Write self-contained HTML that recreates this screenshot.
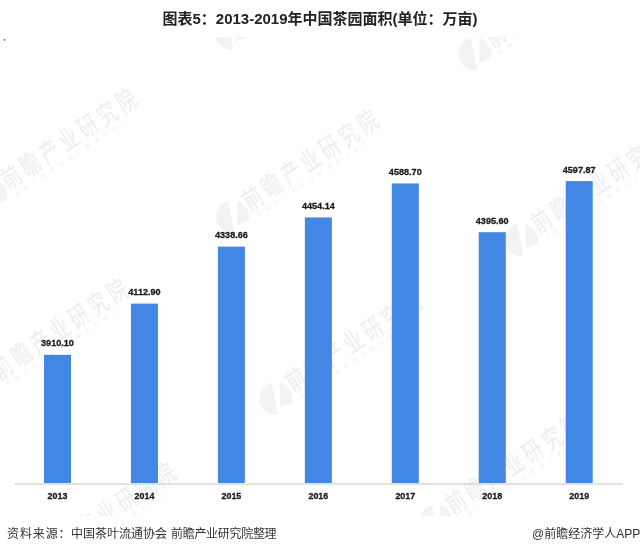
<!DOCTYPE html>
<html><head><meta charset="utf-8"><style>
html,body{margin:0;padding:0;background:#fff;}
body{width:640px;height:552px;position:relative;overflow:hidden;}
#title{position:absolute;left:0;top:8.5px;width:640px;text-align:center;font:bold 15px/20px "Liberation Sans","Noto Sans CJK SC",sans-serif;color:#222;white-space:nowrap;}
svg{position:absolute;left:0;top:0;}
.src{position:absolute;top:524.5px;font:12px/18px "Liberation Sans","Noto Sans CJK SC",sans-serif;color:#333;white-space:nowrap;}
</style></head><body>
<svg width="640" height="552" viewBox="0 0 640 552">
<g fill="#6a7088" opacity="0.11" font-family="Noto Sans CJK SC, sans-serif" font-weight="500"><g transform="translate(232.5 217)"><circle r="16.4" fill="#8a90a4"/><path d="M-4.5 -17.5 L4 -17.5 L4.8 17.5 L2.4 17.5Z M3.4 9 L17.5 3.5 L17.5 18 L3.4 18Z" fill="#fff"/><g transform="rotate(-33.5)"><text transform="translate(17.8 4.8) scale(0.72 1)" font-size="26" letter-spacing="6">前瞻产业研究院</text><text x="20.8" y="13.8" font-size="5" letter-spacing="5.6" font-weight="normal">前瞻产业研究院前瞻经济学人</text></g></g><g transform="translate(275.7 398.5)"><circle r="16.4" fill="#8a90a4"/><path d="M-4.5 -17.5 L4 -17.5 L4.8 17.5 L2.4 17.5Z M3.4 9 L17.5 3.5 L17.5 18 L3.4 18Z" fill="#fff"/><g transform="rotate(-33.5)"><text transform="translate(17.8 4.8) scale(0.72 1)" font-size="26" letter-spacing="6">前瞻产业研究院</text><text x="20.8" y="13.8" font-size="5" letter-spacing="5.6" font-weight="normal">前瞻产业研究院前瞻经济学人</text></g></g><g transform="translate(521.3 240)"><circle r="16.4" fill="#8a90a4"/><path d="M-4.5 -17.5 L4 -17.5 L4.8 17.5 L2.4 17.5Z M3.4 9 L17.5 3.5 L17.5 18 L3.4 18Z" fill="#fff"/><g transform="rotate(-33.5)"><text transform="translate(17.8 4.8) scale(0.72 1)" font-size="26" letter-spacing="6">前瞻产业研究院</text><text x="20.8" y="13.8" font-size="5" letter-spacing="5.6" font-weight="normal">前瞻产业研究院前瞻经济学人</text></g></g><g transform="translate(475 54)"><circle r="16.4" fill="#8a90a4"/><path d="M-4.5 -17.5 L4 -17.5 L4.8 17.5 L2.4 17.5Z M3.4 9 L17.5 3.5 L17.5 18 L3.4 18Z" fill="#fff"/><g transform="rotate(-33.5)"><text transform="translate(17.8 4.8) scale(0.72 1)" font-size="26" letter-spacing="6">前瞻产业研究院</text><text x="20.8" y="13.8" font-size="5" letter-spacing="5.6" font-weight="normal">前瞻产业研究院前瞻经济学人</text></g></g><g transform="translate(-9 196)"><circle r="16.4" fill="#8a90a4"/><path d="M-4.5 -17.5 L4 -17.5 L4.8 17.5 L2.4 17.5Z M3.4 9 L17.5 3.5 L17.5 18 L3.4 18Z" fill="#fff"/><g transform="rotate(-33.5)"><text transform="translate(17.8 4.8) scale(0.72 1)" font-size="26" letter-spacing="6">前瞻产业研究院</text><text x="20.8" y="13.8" font-size="5" letter-spacing="5.6" font-weight="normal">前瞻产业研究院前瞻经济学人</text></g></g><g transform="translate(-18 386)"><circle r="16.4" fill="#8a90a4"/><path d="M-4.5 -17.5 L4 -17.5 L4.8 17.5 L2.4 17.5Z M3.4 9 L17.5 3.5 L17.5 18 L3.4 18Z" fill="#fff"/><g transform="rotate(-33.5)"><text transform="translate(17.8 4.8) scale(0.72 1)" font-size="26" letter-spacing="6">前瞻产业研究院</text><text x="20.8" y="13.8" font-size="5" letter-spacing="5.6" font-weight="normal">前瞻产业研究院前瞻经济学人</text></g></g><g transform="translate(29.5 569.5)"><circle r="16.4" fill="#8a90a4"/><path d="M-4.5 -17.5 L4 -17.5 L4.8 17.5 L2.4 17.5Z M3.4 9 L17.5 3.5 L17.5 18 L3.4 18Z" fill="#fff"/><g transform="rotate(-33.5)"><text transform="translate(17.8 4.8) scale(0.72 1)" font-size="26" letter-spacing="6">前瞻产业研究院</text><text x="20.8" y="13.8" font-size="5" letter-spacing="5.6" font-weight="normal">前瞻产业研究院前瞻经济学人</text></g></g><g transform="translate(436 521)"><circle r="16.4" fill="#8a90a4"/><path d="M-4.5 -17.5 L4 -17.5 L4.8 17.5 L2.4 17.5Z M3.4 9 L17.5 3.5 L17.5 18 L3.4 18Z" fill="#fff"/><g transform="rotate(-33.5)"><text transform="translate(17.8 4.8) scale(0.72 1)" font-size="26" letter-spacing="6">前瞻产业研究院</text><text x="20.8" y="13.8" font-size="5" letter-spacing="5.6" font-weight="normal">前瞻产业研究院前瞻经济学人</text></g></g><g transform="translate(231 33)"><circle r="16.4" fill="#8a90a4"/><path d="M-4.5 -17.5 L4 -17.5 L4.8 17.5 L2.4 17.5Z M3.4 9 L17.5 3.5 L17.5 18 L3.4 18Z" fill="#fff"/><g transform="rotate(-33.5)"><text transform="translate(17.8 4.8) scale(0.72 1)" font-size="26" letter-spacing="6">前瞻产业研究院</text><text x="20.8" y="13.8" font-size="5" letter-spacing="5.6" font-weight="normal">前瞻产业研究院前瞻经济学人</text></g></g></g>
<rect x="14.4" y="483.3" width="608.6" height="1.4" fill="#d6d6d6"/>
<g fill="#4287e4"><rect x="44.00" y="354.83" width="27" height="128.17"/><rect x="130.95" y="303.61" width="27" height="179.39"/><rect x="217.90" y="246.59" width="27" height="236.41"/><rect x="304.85" y="217.42" width="27" height="265.58"/><rect x="391.80" y="183.44" width="27" height="299.56"/><rect x="478.75" y="232.21" width="27" height="250.79"/><rect x="565.70" y="181.12" width="27" height="301.88"/></g>
<g font-family="Liberation Sans, sans-serif" font-weight="bold" font-size="9.3" fill="#1a1a1a" stroke="#1a1a1a" stroke-width="0.3" text-anchor="middle"><text transform="translate(57.50 346.43) scale(0.98 1)">3910.10</text><text transform="translate(144.45 295.21) scale(0.98 1)">4112.90</text><text transform="translate(231.40 238.19) scale(0.98 1)">4338.66</text><text transform="translate(318.35 209.02) scale(0.98 1)">4454.14</text><text transform="translate(405.30 175.04) scale(0.98 1)">4588.70</text><text transform="translate(492.25 223.81) scale(0.98 1)">4395.60</text><text transform="translate(579.20 172.72) scale(0.98 1)">4597.87</text><text font-size="9.3" transform="translate(57.50 498.8) scale(0.96 1)">2013</text><text font-size="9.3" transform="translate(144.45 498.8) scale(0.96 1)">2014</text><text font-size="9.3" transform="translate(231.40 498.8) scale(0.96 1)">2015</text><text font-size="9.3" transform="translate(318.35 498.8) scale(0.96 1)">2016</text><text font-size="9.3" transform="translate(405.30 498.8) scale(0.96 1)">2017</text><text font-size="9.3" transform="translate(492.25 498.8) scale(0.96 1)">2018</text><text font-size="9.3" transform="translate(579.20 498.8) scale(0.96 1)">2019</text></g>
<rect x="0" y="0" width="640" height="37" fill="#fff"/>
<rect x="0" y="516" width="640" height="36" fill="#fff"/>
<circle cx="4.5" cy="39.8" r="0.9" fill="#557"/>
</svg>
<div id="title">图表5：2013-2019年中国茶园面积(单位：万亩)</div>
<div class="src" style="left:7px;letter-spacing:0.9px">资料来源：</div>
<div class="src" style="left:71px">中国茶叶流通协会</div>
<div class="src" style="left:171px;letter-spacing:-0.3px">前瞻产业研究院整理</div>
<div class="src" style="left:532px">@前瞻经济学人APP</div>
</body></html>
